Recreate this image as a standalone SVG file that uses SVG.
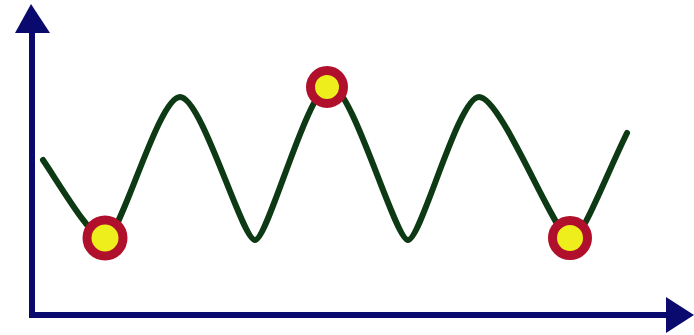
<svg xmlns="http://www.w3.org/2000/svg" width="694" height="335" viewBox="0 0 694 335">
<style>
.axis{stroke:#0a0a6e;stroke-width:6;fill:none}
.head{fill:#0a0a6e}
.wave{stroke:#0d3a14;stroke-width:6;fill:none;stroke-linecap:round;stroke-linejoin:round}
.ball{fill:#eeee1c;stroke:#b0102c;stroke-width:9}
</style>
<rect width="694" height="335" fill="#ffffff"/>
<g id="connectors">
<path class="axis" d="M32,30 L32,315 L668,315"/>
<polygon class="head" points="31,4 15,33 50,33"/>
<polygon class="head" points="666,297 666,333 694,315"/>
<path class="wave" d="M43,160 C60,185 92,240 105,240 C120,240 158,97 180,97 C202,97 242,240 255,240 C268,240 308,85 330,85 C352,85 395,240 408,240 C421,240 458,97 479,97 C502,97 556,240 571,240 C582,240 604,180 627,133"/>
</g>
<g id="ball1"><circle class="ball" cx="105" cy="238" r="18"/></g>
<g id="ball2"><circle class="ball" cx="327" cy="87" r="16.5"/></g>
<g id="ball3"><circle class="ball" cx="570" cy="238" r="17.5"/></g>
</svg>
